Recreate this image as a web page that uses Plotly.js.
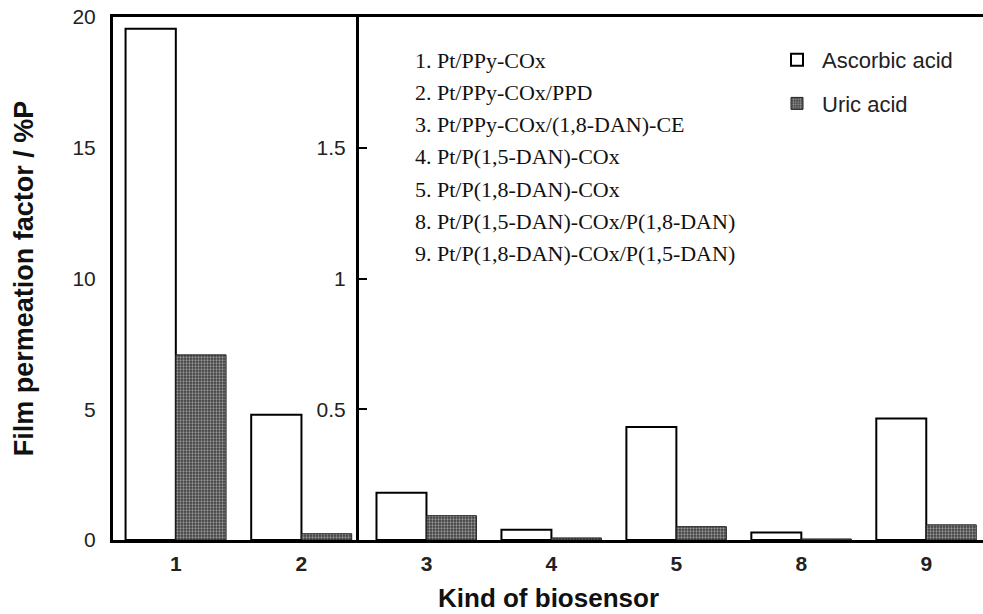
<!DOCTYPE html>
<html>
<head>
<meta charset="utf-8">
<script src="https://cdn.plot.ly/plotly-3.0.1.min.js"></script>
<style>html,body{margin:0;padding:0;background:#fff;}#chart{width:983px;height:614px;}</style>
</head>
<body>
<div id="chart"></div>
<script>
// Left panel (scale 0-20)
const categoriesLeft = ['1', '2'];
const ascorbicLeft = [19.55, 4.79];
const uricLeft = [7.08, 0.24];

// Right panel (scale 0-2)
const categoriesRight = ['3', '4', '5', '8', '9'];
const ascorbicRight = [0.181, 0.039, 0.432, 0.029, 0.465];
const uricRight = [0.093, 0.008, 0.051, 0.004, 0.058];

const seriesNames = ['Ascorbic acid', 'Uric acid'];
const leftTicks = [0, 5, 10, 15, 20];
const rightTicks = [0.5, 1, 1.5];
const rightTickText = ['0.5', '1', '1.5'];

const sensorList = [
  '1. Pt/PPy-COx',
  '2. Pt/PPy-COx/PPD',
  '3. Pt/PPy-COx/(1,8-DAN)-CE',
  '4. Pt/P(1,5-DAN)-COx',
  '5. Pt/P(1,8-DAN)-COx',
  '8. Pt/P(1,5-DAN)-COx/P(1,8-DAN)',
  '9. Pt/P(1,8-DAN)-COx/P(1,5-DAN)'
];

const ascStyle = {color: '#ffffff', line: {color: '#000', width: 2}};
const uricStyle = {
  color: '#4d4d4d',
  line: {color: '#222', width: 1},
  pattern: {shape: '.', fillmode: 'replace', bgcolor: '#3e3e3e', fgcolor: '#969696', size: 3, solidity: 0.45}
};

const traces = [
  {type: 'bar', x: categoriesLeft, y: ascorbicLeft, name: seriesNames[0], marker: ascStyle,
   xaxis: 'x', yaxis: 'y', legendgroup: 'a', showlegend: true},
  {type: 'bar', x: categoriesLeft, y: uricLeft, name: seriesNames[1], marker: uricStyle,
   xaxis: 'x', yaxis: 'y', legendgroup: 'b', showlegend: true},
  {type: 'bar', x: categoriesRight, y: ascorbicRight, name: seriesNames[0], marker: ascStyle,
   xaxis: 'x2', yaxis: 'y2', legendgroup: 'a', showlegend: false},
  {type: 'bar', x: categoriesRight, y: uricRight, name: seriesNames[1], marker: uricStyle,
   xaxis: 'x2', yaxis: 'y2', legendgroup: 'b', showlegend: false}
];

const L = 113, T = 17, W = 983, H = 614, B = 74;
const plotW = W - L, plotH = H - T - B;
const splitPx = 359;
const splitFrac = (splitPx - L) / plotW;

const annotations = sensorList.map((s, i) => ({
  xref: 'paper', yref: 'paper',
  x: (413 - L) / plotW,
  y: (H - B - (60 + 32.3 * i)) / plotH,
  xanchor: 'left', yanchor: 'middle',
  text: s, showarrow: false,
  font: {family: 'Liberation Serif, Times New Roman, serif', size: 22, color: '#111'}
}));
annotations.push({
  xref: 'paper', yref: 'paper', x: 0.5, y: (H - B - 598) / plotH,
  xanchor: 'center', yanchor: 'middle', showarrow: false,
  text: 'Kind of biosensor',
  font: {family: 'Liberation Sans, Arial, sans-serif', size: 26, color: '#111', weight: 'bold'}
});

const axisFont = {family: 'Liberation Sans, Arial, sans-serif', size: 21, color: '#222'};
const catFont = {family: 'Liberation Sans, Arial, sans-serif', size: 21, color: '#222', weight: 'bold'};

const layout = {
  width: W, height: H,
  margin: {l: L, r: 0, t: T, b: B, pad: 0},
  paper_bgcolor: '#fff', plot_bgcolor: '#fff',
  barmode: 'group', bargap: 0.2, bargroupgap: 0,
  font: axisFont,
  showlegend: true,
  legend: {
    x: (772 - L) / plotW, y: (H - B - 39) / plotH, xanchor: 'left', yanchor: 'top',
    font: {family: 'Liberation Sans, Arial, sans-serif', size: 22, color: '#222'},
    traceorder: 'grouped', tracegroupgap: 12, bgcolor: 'rgba(0,0,0,0)', itemwidth: 40
  },
  xaxis: {
    domain: [0, splitFrac], anchor: 'y', type: 'category',
    range: [-0.5, 1.458], showline: true, linewidth: 3, linecolor: '#000', mirror: true,
    ticks: '', showgrid: false, zeroline: false, ticklabelstandoff: 3,
    tickfont: catFont, fixedrange: true
  },
  xaxis2: {
    domain: [splitFrac, 1], anchor: 'y2', type: 'category',
    range: [-0.54, 4.454], showline: true, linewidth: 3, linecolor: '#000', mirror: true,
    ticks: '', showgrid: false, zeroline: false, ticklabelstandoff: 3,
    tickfont: catFont, fixedrange: true
  },
  yaxis: {
    anchor: 'x', range: [0, 20], tickvals: leftTicks, ticks: '',
    showline: true, linewidth: 3, linecolor: '#000', showgrid: false, zeroline: false,
    ticklabelstandoff: 10, tickfont: axisFont,
    title: {text: 'Film permeation factor / %P', standoff: 31,
            font: {family: 'Liberation Sans, Arial, sans-serif', size: 27, color: '#111', weight: 'bold'}},
    fixedrange: true
  },
  yaxis2: {
    anchor: 'x2', range: [0, 2], tickvals: rightTicks, ticktext: rightTickText,
    ticks: 'inside', ticklen: 8, tickwidth: 2, tickcolor: '#000',
    showline: true, linewidth: 3, linecolor: '#000', showgrid: false, zeroline: false,
    ticklabelstandoff: 6, tickfont: axisFont, fixedrange: true
  },
  annotations: annotations
};

Plotly.newPlot('chart', traces, layout, {displayModeBar: false, staticPlot: true});
</script>
</body>
</html>
